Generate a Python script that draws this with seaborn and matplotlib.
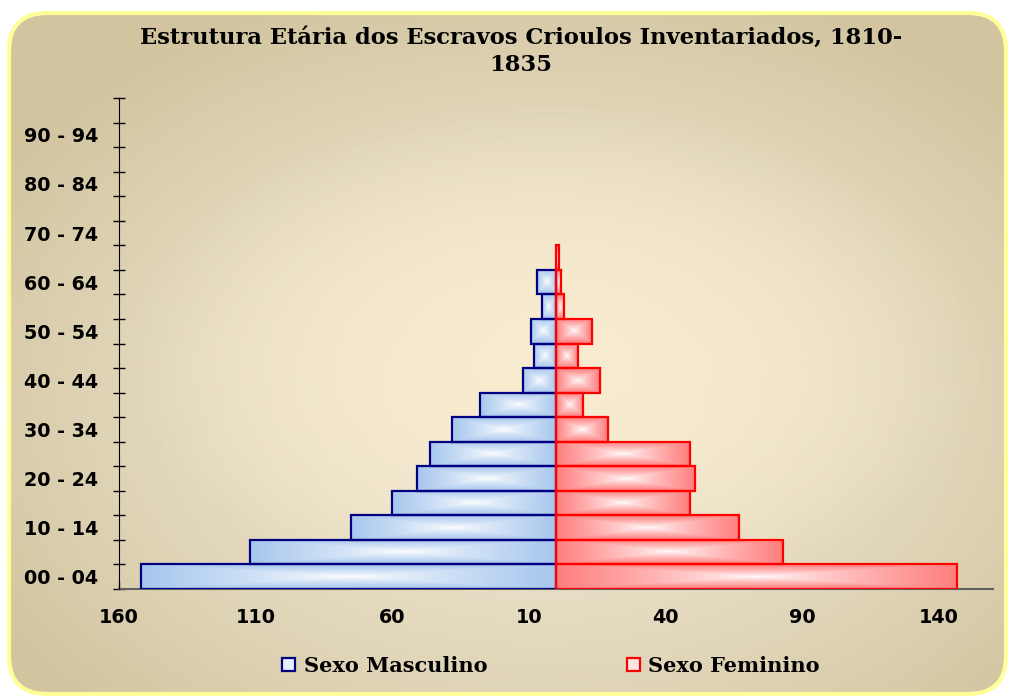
import numpy as np
import pandas as pd
import matplotlib
matplotlib.use("Agg")
import matplotlib.pyplot as plt
import seaborn as sns
from matplotlib.patches import FancyBboxPatch, Patch
from matplotlib.colors import to_rgb

# faixas etarias (de baixo para cima)
ages = ["00 - 04", "05 - 09", "10 - 14", "15 - 19", "20 - 24", "25 - 29", "30 - 34",
        "35 - 39", "40 - 44", "45 - 49", "50 - 54", "55 - 59", "60 - 64", "65 - 69",
        "70 - 74", "75 - 79", "80 - 84", "85 - 89", "90 - 94", "95 - 99"]
male = [152, 112, 75, 60, 51, 46, 38, 28, 12, 8, 9, 5, 7, 0, 0, 0, 0, 0, 0, 0]
female = [147, 83, 67, 49, 51, 49, 19, 10, 16, 8, 13, 3, 2, 1, 0, 0, 0, 0, 0, 0]
x_ticks = [-160, -110, -60, -10, 40, 90, 140]
series = ["Sexo Masculino", "Sexo Feminino"]
title = "Estrutura Etária dos Escravos Crioulos Inventariados, 1810-\n1835"

df = pd.DataFrame({
    "idade": ages * 2,
    "sexo": [series[0]] * len(ages) + [series[1]] * len(ages),
    "valor": [-m for m in male] + female,
})

edge_cols = {series[0]: "#000080", series[1]: "#ff0000"}
fill_cols = {series[0]: "#a7c7ee", series[1]: "#ff7f7f"}

sns.set_style("white")
plt.rcParams.update({"text.color": "black", "xtick.color": "black", "ytick.color": "black",
                     "xtick.bottom": True, "ytick.left": True})
fig = plt.figure(figsize=(10.09, 6.97), dpi=100)
fig.patch.set_facecolor("white")

# fundo arredondado com degrade
bg = fig.add_axes([0, 0, 1, 1], zorder=-10)
bg.set_axis_off()
bg.set_xlim(0, 1009)
bg.set_ylim(697, 0)
yy, xx = np.mgrid[0:697, 0:1009]
d = np.sqrt(((xx - 540) / 640.0) ** 2 + ((yy - 400) / 440.0) ** 2)
d = np.clip(d, 0, 1) ** 1.4
light = np.array(to_rgb("#f0e9d5"))
dark = np.array(to_rgb("#d2c49f"))
img = light * (1 - d[..., None]) + dark * d[..., None]
box = FancyBboxPatch((9, 13), 997, 681, boxstyle="round,pad=0,rounding_size=38",
                     facecolor="none", edgecolor="#ffff99", linewidth=3, zorder=3)
bg.add_patch(box)
im = bg.imshow(img, extent=[0, 1009, 697, 0], aspect="auto", zorder=1)
im.set_clip_path(box)

ax = fig.add_axes([119 / 1009, 1 - 589 / 697, (993 - 119) / 1009, (589 - 98) / 697])
ax.set_facecolor("none")

# area de plotagem levemente mais quente no centro
yy2, xx2 = np.mgrid[0:200, 0:300]
d2 = np.sqrt(((xx2 - 150) / 150.0) ** 2 + ((yy2 - 105) / 105.0) ** 2)
d2 = np.clip(d2, 0, 1)
warm = np.zeros((200, 300, 4))
warm[..., :3] = to_rgb("#fbedcf")
warm[..., 3] = (1 - d2 ** 1.5) * 0.85
ax.imshow(warm, extent=[0, 1, 0, 1], transform=ax.transAxes, aspect="auto", zorder=0)

sns.barplot(data=df, x="valor", y="idade", hue="sexo", order=ages, hue_order=series,
            orient="h", dodge=False, width=1.0, palette=fill_cols, legend=False, ax=ax)

u = np.linspace(-1, 1, 120)
v = np.linspace(-1, 1, 40)
U, V = np.meshgrid(u, v)
dist = np.maximum(np.abs(U), np.abs(V)) ** 0.8

for cont, name in zip(ax.containers, series):
    col = np.array(to_rgb(fill_cols[name]))
    grad = np.ones((40, 120, 3)) * (1 - dist[..., None]) + col * dist[..., None]
    for p in cont:
        if p.get_width() == 0:
            p.set_visible(False)
            continue
        x0, y0, w, h = p.get_x(), p.get_y(), p.get_width(), p.get_height()
        gi = ax.imshow(grad, extent=[x0, x0 + w, y0, y0 + h], aspect="auto",
                       interpolation="bilinear", zorder=2)
        gi.set_clip_path(p)
        p.set_facecolor("none")
        p.set_edgecolor(edge_cols[name])
        p.set_linewidth(1.6)
        p.set_zorder(3)

ax.set_xlim(-160, 160)
ax.set_ylim(-0.5, len(ages) - 0.5)
ax.set_xlabel("")
ax.set_ylabel("")

ax.set_xticks(x_ticks)
ax.set_xticklabels([str(abs(t)) for t in x_ticks])
ax.tick_params(axis="x", which="major", bottom=True, direction="in", length=6, width=1,
               color="#404040", pad=14)
ax.tick_params(axis="x", which="minor", bottom=False)
ax.set_yticks(range(0, len(ages), 2))
ax.set_yticklabels(ages[::2])
ax.set_yticks(np.arange(-0.5, len(ages), 1.0), minor=True)
ax.tick_params(axis="y", which="major", left=True, length=0, pad=15)
ax.tick_params(axis="y", which="minor", left=True, direction="inout", length=9, width=1,
               color="black")

for lab in ax.get_xticklabels() + ax.get_yticklabels():
    lab.set_fontweight("bold")
    lab.set_fontsize(13.8)
    lab.set_family("DejaVu Sans")
    lab.set_color("black")

for s in ["top", "right"]:
    ax.spines[s].set_visible(False)
ax.spines["left"].set_color("black")
ax.spines["left"].set_zorder(4)
ax.spines["bottom"].set_color("#606060")
ax.spines["bottom"].set_linewidth(1.5)

fig.text(521 / 1009, 1 - 27 / 697, title, ha="center", va="top", family="DejaVu Serif",
         fontweight="bold", fontsize=16.3, linespacing=1.3, color="black")

handles = [Patch(facecolor="#e6effb", edgecolor=edge_cols[series[0]], linewidth=1.6),
           Patch(facecolor="#ffe3e3", edgecolor=edge_cols[series[1]], linewidth=1.6)]
fig.legend(handles, series, loc="center", bbox_to_anchor=(551 / 1009, 1 - 666 / 697),
           ncol=2, frameon=False, columnspacing=6.7, handlelength=0.62, handleheight=0.62,
           handletextpad=0.4, prop=dict(family="DejaVu Serif", weight="bold", size=15))

fig.savefig("out.png", dpi=100)
